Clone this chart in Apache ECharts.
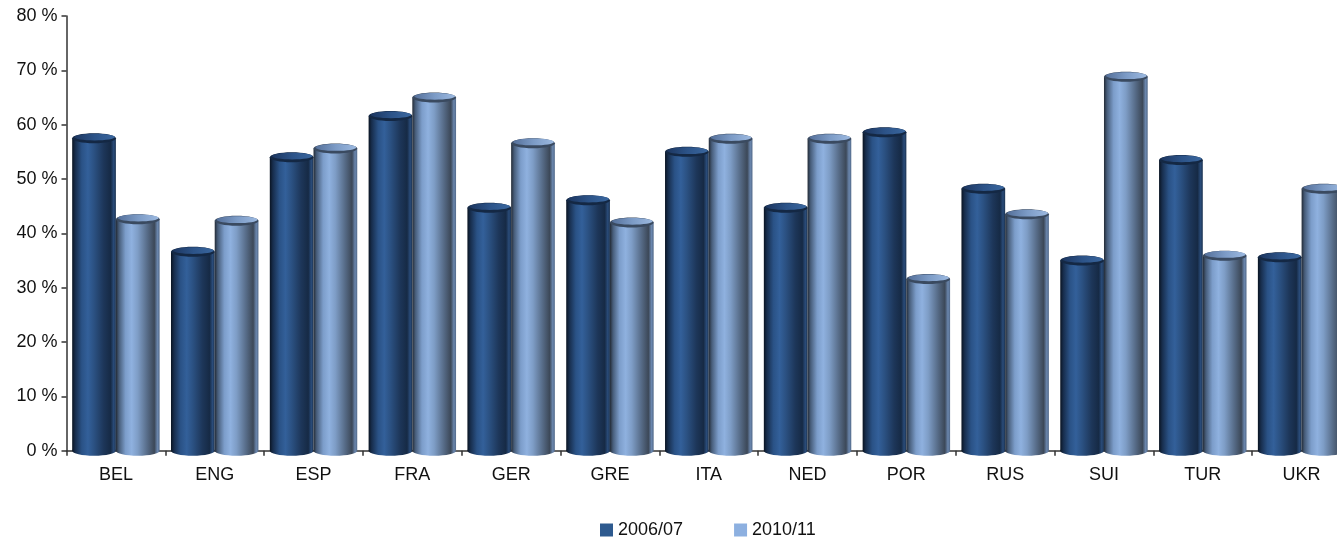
<!DOCTYPE html>
<html>
<head>
<meta charset="utf-8">
<title>Cylinder columns 2006/07 vs 2010/11</title>
<script src="https://cdn.jsdelivr.net/npm/echarts@6/dist/echarts.min.js"></script>
<style>
  html, body { margin: 0; padding: 0; background: #ffffff; overflow: hidden; }
  /* the plot runs a little past the right edge of the window */
  #chart { width: 1351px; height: 539px; }
</style>
</head>
<body>
<div id="chart"></div>
<script>
// Countries along the category axis
const categories = ['BEL', 'ENG', 'ESP', 'FRA', 'GER', 'GRE', 'ITA', 'NED', 'POR', 'RUS', 'SUI', 'TUR', 'UKR'];

// Series names
const seriesNames = ['2006/07', '2010/11'];

// Percentages per season
const season0607 = [57.5, 36.6, 54.0, 61.6, 44.7, 46.1, 55.0, 44.7, 58.6, 48.2, 35.0, 53.5, 35.6];
const season1011 = [42.6, 42.3, 55.6, 65.0, 56.6, 42.0, 57.4, 57.4, 31.6, 43.5, 68.8, 35.9, 48.2];

// Value axis ticks
const yTicks = [0, 10, 20, 30, 40, 50, 60, 70, 80];

const FONT = '"Liberation Sans", Arial, Helvetica, sans-serif';

function lg(stops) {
  return new echarts.graphic.LinearGradient(0, 0, 1, 0,
    stops.map(s => ({ offset: s[0], color: s[1] })));
}

// Shading for each cylinder style: body, top face, top rim, flat legend colour
const styles = [
  {
    legend: '#2e5a8f',
    body: [[0, '#0a1422'], [0.07, '#172d4c'], [0.22, '#2a5286'], [0.36, '#33609a'],
           [0.5, '#2b5182'], [0.72, '#1d3659'], [0.88, '#162a45'], [0.95, '#2a4c7a'], [1, '#1b3250']],
    face: [[0, '#1c3660'], [0.5, '#2c5388'], [1, '#3a679f']],
    rim: '#142844'
  },
  {
    legend: '#8db0e0',
    body: [[0, '#232b36'], [0.07, '#475d7a'], [0.22, '#7c9dca'], [0.36, '#8fb1df'],
           [0.5, '#7e9dc6'], [0.72, '#566b87'], [0.88, '#3c4858'], [0.95, '#6a86ad'], [1, '#536a8a']],
    face: [[0, '#55709a'], [0.5, '#7c9bc6'], [1, '#9cb9e0']],
    rim: '#3a4a60'
  }
];

function makeRenderer(side) {
  const st = styles[side];
  return function (params, api) {
    const cat = api.value(0);
    const val = api.value(1);
    const top = api.coord([cat, val]);
    const base = api.coord([cat, 0]);
    const band = api.size([1, 0])[0];
    const w = band * 0.4425;
    const cx = top[0] + (side === 0 ? -w / 2 : w / 2);
    const rx = w / 2;
    const ry = 5;
    const bodyFill = lg(st.body);
    return {
      type: 'group',
      children: [
        { type: 'ellipse', shape: { cx: cx, cy: base[1], rx: rx, ry: ry }, style: { fill: bodyFill } },
        { type: 'rect', shape: { x: cx - rx, y: top[1], width: w, height: base[1] - top[1] }, style: { fill: bodyFill } },
        { type: 'ellipse', shape: { cx: cx, cy: top[1], rx: rx, ry: ry }, style: { fill: st.rim } },
        { type: 'ellipse', shape: { cx: cx + 0.5, cy: top[1] - 1.2, rx: rx - 1.5, ry: ry - 1.6 }, style: { fill: lg(st.face) } }
      ]
    };
  };
}

const chart = echarts.init(document.getElementById('chart'), null, { renderer: 'canvas' });

const axisColor = '#333333';

chart.setOption({
  animation: false,
  backgroundColor: '#ffffff',
  grid: { left: 66.5, right: 0, top: 16, bottom: 88.3, containLabel: false },
  legend: {
    left: 595,
    top: 516,
    itemWidth: 13,
    itemHeight: 13,
    itemGap: 51,
    icon: 'rect',
    textStyle: { fontFamily: FONT, fontSize: 18, color: '#111111' },
    data: seriesNames.map((n, i) => ({ name: n, itemStyle: { color: styles[i].legend } }))
  },
  xAxis: {
    type: 'category',
    data: categories,
    boundaryGap: true,
    axisLine: { show: true, lineStyle: { color: axisColor, width: 1.5 } },
    axisTick: { show: true, length: 5, interval: 0, lineStyle: { color: axisColor, width: 1.5 } },
    axisLabel: { interval: 0, margin: 15, fontFamily: FONT, fontSize: 18, color: '#111111' },
    splitLine: { show: false }
  },
  yAxis: {
    type: 'value',
    min: yTicks[0],
    max: yTicks[yTicks.length - 1],
    interval: yTicks[1] - yTicks[0],
    axisLine: { show: true, lineStyle: { color: axisColor, width: 1.5 } },
    axisTick: { show: true, length: 5, lineStyle: { color: axisColor, width: 1.5 } },
    axisLabel: { margin: 9, fontFamily: FONT, fontSize: 18, color: '#111111', formatter: '{value} %' },
    splitLine: { show: false }
  },
  series: [
    {
      name: seriesNames[0],
      type: 'custom',
      clip: false,
      itemStyle: { color: styles[0].legend },
      renderItem: makeRenderer(0),
      encode: { x: 0, y: 1 },
      data: season0607.map((v, i) => [i, v])
    },
    {
      name: seriesNames[1],
      type: 'custom',
      clip: false,
      itemStyle: { color: styles[1].legend },
      renderItem: makeRenderer(1),
      encode: { x: 0, y: 1 },
      data: season1011.map((v, i) => [i, v])
    }
  ]
});
</script>
</body>
</html>
